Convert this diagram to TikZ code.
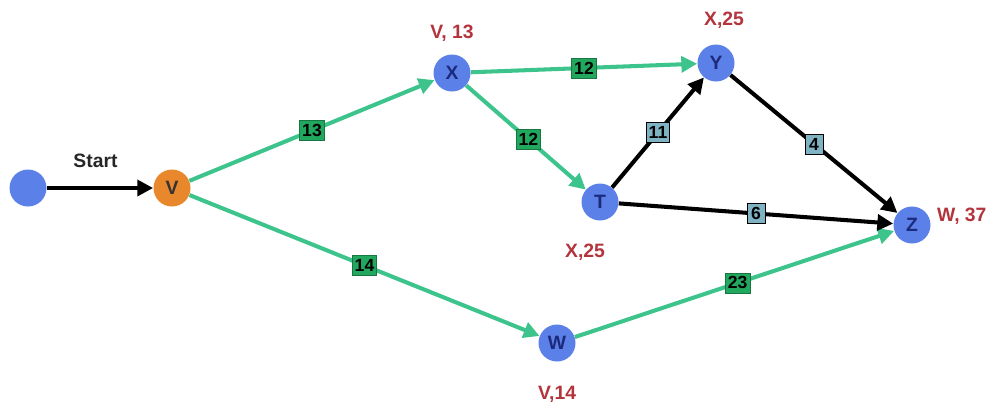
\documentclass[tikz,border=0pt]{standalone}
\usepackage{fontspec}
\setmainfont{Liberation Sans}
\usetikzlibrary{arrows.meta,positioning}
\definecolor{nodeblue}{HTML}{5B80E8}
\definecolor{nodeorange}{HTML}{E8872C}
\definecolor{edgegreen}{HTML}{3CC48C}
\definecolor{boxgreen}{HTML}{22A85E}
\definecolor{boxsteel}{HTML}{7FB2C2}
\definecolor{labelred}{HTML}{B3343C}
\definecolor{navy}{HTML}{1C2A7C}
\tikzstyle{vertex} = [circle, fill=nodeblue, minimum size=0.74cm, inner sep=0pt, text=navy, font=\fontsize{11}{13}\selectfont\bfseries]
\tikzstyle{source} = [vertex, fill=nodeorange, text=black!80]
\tikzstyle{dist} = [text=labelred, font=\fontsize{11}{13}\selectfont\bfseries]
\tikzstyle{greenedge} = [draw=edgegreen, line width=2.3pt, -{Triangle[length=9pt,width=9pt]}]
\tikzstyle{blackedge} = [draw=black, line width=2.3pt, -{Triangle[length=9pt,width=9pt]}]
\tikzstyle{greenbox} = [rectangle, fill=boxgreen, draw=boxgreen!70!black, line width=0.5pt, inner sep=1.5pt, minimum width=0.44cm, minimum height=0.4cm, font=\fontsize{10}{12}\selectfont\bfseries]
\tikzstyle{steelbox} = [greenbox, fill=boxsteel, draw=black, minimum width=0.36cm]

\begin{document}
\begin{tikzpicture}[node distance=0.2cm]
   \useasboundingbox (0,0) rectangle (19.78,8.1);
   % nodes
   \node[vertex] (s) at (0.56,4.34)  {};
   \node[source] (v) at (3.44,4.34)  {V};
   \node[vertex] (x) at (9.04,6.64)  {X};
   \node[vertex] (y) at (14.32,6.84) {Y};
   \node[vertex] (t) at (12.0,4.06)  {T};
   \node[vertex] (z) at (18.24,3.6)  {Z};
   \node[vertex] (w) at (11.14,1.24) {W};

   % distance labels
   \node[dist] (xlab) [above=0.12cm of x] {V, 13};
   \node[dist] (ylab) [above=0.18cm of y, xshift=0.16cm] {X,25};
   \node[dist] (tlab) [below=0.34cm of t, xshift=-0.3cm] {X,25};
   \node[dist] (zlab) [right=0cm of z, yshift=0.18cm] {W, 37};
   \node[dist] (wlab) [below=0.37cm of w] {V,14};

   % edges
   \draw[blackedge] (s) -- (v) node[midway, above=0.25cm, xshift=-0.09cm, font=\fontsize{11}{13}\selectfont\bfseries, text=black!85] {Start};
   \draw[greenedge] (v) -- (x) node[greenbox, midway] {13};
   \draw[greenedge] (v) -- (w) node[greenbox, midway] {14};
   \draw[greenedge] (x) -- (y) node[greenbox, midway] {12};
   \draw[greenedge] (x) -- (t) node[greenbox, pos=0.52] {12};
   \draw[greenedge] (w) -- (z) node[greenbox, pos=0.51] {23};
   \draw[blackedge] (t) -- (y) node[steelbox, midway] {11};
   \draw[blackedge] (y) -- (z) node[steelbox, midway] {4};
   \draw[blackedge] (t) -- (z) node[steelbox, midway] {6};
\end{tikzpicture}
\end{document}
